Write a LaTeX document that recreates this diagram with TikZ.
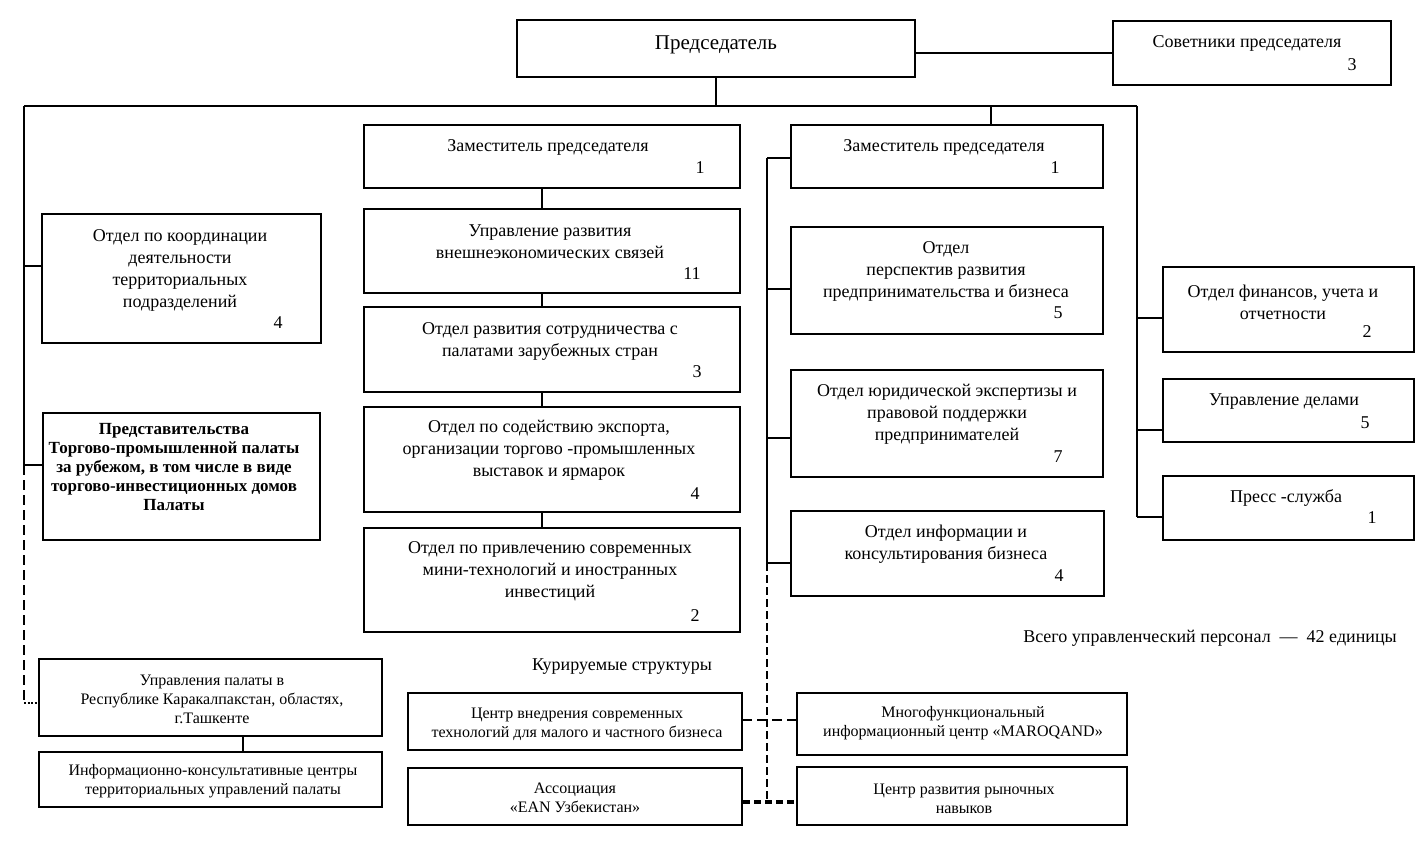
\documentclass[tikz,border=0pt]{standalone}
\usepackage{fontspec}
\setmainfont{Liberation Serif}
\usetikzlibrary{fit}
\begin{document}
\begin{tikzpicture}[x=1pt,y=-1pt,
  box/.style={draw, line width=2pt, inner sep=0pt},
  conn/.style={line width=2pt},
  dconn/.style={line width=2pt, dash pattern=on 10pt off 5pt},
  ddconn/.style={line width=2.8pt, dash pattern=on 8pt off 4pt},
  thconn/.style={line width=3.8pt, dash pattern=on 7pt off 4pt},
  txt/.style={font=\fontsize{18}{22}\selectfont, align=center, inner sep=0pt},
  stxt/.style={font=\fontsize{16}{19}\selectfont, align=center, inner sep=0pt},
  btxt/.style={font=\bfseries\fontsize{17}{19}\selectfont, align=center, inner sep=0pt},
  num/.style={font=\fontsize{18}{22}\selectfont, inner sep=0pt}]
\useasboundingbox (0,0) rectangle (1420,850);
% boxes
\node[box, fit={(517,20) (915,77)}] (chair) {};
\node[box, fit={(1113,21) (1391,85)}] (adv) {};
\node[box, fit={(364,125) (740,188)}] (zl) {};
\node[box, fit={(364,209) (740,293)}] (ur) {};
\node[box, fit={(364,307) (740,392)}] (os) {};
\node[box, fit={(364,407) (740,512)}] (oe) {};
\node[box, fit={(364,528) (740,632)}] (oi) {};
\node[box, fit={(791,125) (1103,188)}] (zr) {};
\node[box, fit={(791,227) (1103,334)}] (op) {};
\node[box, fit={(791,370) (1103,477)}] (oj) {};
\node[box, fit={(791,511) (1104,596)}] (ok) {};
\node[box, fit={(1163,267) (1414,352)}] (of) {};
\node[box, fit={(1163,379) (1414,442)}] (ud) {};
\node[box, fit={(1163,476) (1414,540)}] (ps) {};
\node[box, fit={(42,214) (321,343)}] (okd) {};
\node[box, fit={(43,413) (320,540)}] (rep) {};
\node[box, fit={(39,659) (382,736)}] (upr) {};
\node[box, fit={(39,752) (382,807)}] (ikc) {};
\node[box, fit={(408,693) (742,750)}] (cvt) {};
\node[box, fit={(408,768) (742,825)}] (ean) {};
\node[box, fit={(797,693) (1127,755)}] (mfc) {};
\node[box, fit={(797,767) (1127,825)}] (crn) {};
% texts
\node[txt, font=\fontsize{21}{25}\selectfont] (t-chair) at (716,45) {Председатель};
\node[txt] (t-adv) at (1247,43) {Советники председателя};
\node[num] (n-adv) at (1352,65) {3};
\node[txt] (t-zl) at (548,147) {Заместитель председателя};
\node[num] (n-zl) at (700,168) {1};
\node[txt] (t-ur) at (550,241.5) {Управление развития\\внешнеэкономических связей};
\node[num] (n-ur) at (692,274) {11};
\node[txt] (t-os) at (550,341) {Отдел развития сотрудничества с\\палатами зарубежных стран};
\node[num] (n-os) at (697,372) {3};
\node[txt] (t-oe) at (549,450) {Отдел по содействию экспорта,\\организации торгово -промышленных\\выставок и ярмарок};
\node[num] (n-oe) at (695,494) {4};
\node[txt] (t-oi) at (550,571.5) {Отдел по привлечению современных\\мини-технологий и иностранных\\инвестиций};
\node[num] (n-oi) at (695,616) {2};
\node[txt] (t-zr) at (944,147) {Заместитель председателя};
\node[num] (n-zr) at (1055,168) {1};
\node[txt] (t-op) at (946,271.5) {Отдел\\перспектив развития\\предпринимательства и бизнеса};
\node[num] (n-op) at (1058,313) {5};
\node[txt] (t-oj) at (947,414.5) {Отдел юридической экспертизы и\\правовой поддержки\\предпринимателей};
\node[num] (n-oj) at (1058,457) {7};
\node[txt] (t-ok) at (946,544) {Отдел информации и\\консультирования бизнеса};
\node[num] (n-ok) at (1059,576) {4};
\node[txt] (t-of) at (1283,302) {Отдел финансов, учета и\\отчетности};
\node[num] (n-of) at (1367,332) {2};
\node[txt] (t-ud) at (1284,402) {Управление делами};
\node[num] (n-ud) at (1365,423) {5};
\node[txt] (t-ps) at (1286,498) {Пресс -служба};
\node[num] (n-ps) at (1372,518) {1};
\node[txt] (t-okd) at (180,270) {Отдел по координации\\деятельности\\территориальных\\подразделений};
\node[num] (n-okd) at (278,323) {4};
\node[btxt] (t-rep) at (174,467) {Представительства\\Торгово-промышленной палаты\\за рубежом, в том числе в виде\\торгово-инвестиционных домов\\Палаты};
\node[stxt] (t-upr) at (212,699) {Управления палаты в\\Республике Каракалпакстан, областях,\\г.Ташкенте};
\node[stxt] (t-ikc) at (213,781) {Информационно-консультативные центры\\территориальных управлений палаты};
\node[stxt] (t-cvt) at (577,724) {Центр внедрения современных\\технологий для малого и частного бизнеса};
\node[stxt] (t-ean) at (575,798) {Ассоциация\\«EAN Узбекистан»};
\node[stxt] (t-mfc) at (963,723.5) {Многофункциональный\\информационный центр  «MAROQAND»};
\node[stxt] (t-crn) at (964,798.5) {Центр развития рыночных\\навыков};
\node[txt] (t-kur) at (622,667) {Курируемые структуры};
\node[txt] (t-all) at (1210,638) {Всего управленческий персонал \ — \ 42 единицы};
% connectors: top
\coordinate (busL) at (24,106);
\coordinate (busR) at (1137,106);
\coordinate (tzr) at (991,106);
\draw[conn] (busL) -- (busR);
\draw[conn] (chair.south) -- (chair.south |- busL);
\draw[conn] (tzr) -- (tzr |- zr.north);
\draw[conn] (adv.west) -- (adv.west -| chair.east);
% left spine
\coordinate (lokd) at (24,266);
\coordinate (lrep) at (24,465);
\coordinate (lbot) at (24,703);
\draw[conn] (busL) -- (lrep);
\draw[conn] (lokd) -- (lokd -| okd.west);
\draw[conn] (lrep) -- (lrep -| rep.west);
\draw[dconn] (lrep) -- (lbot);
\draw[line width=1.6pt, dash pattern=on 2pt off 1.5pt] (lbot) -- (lbot -| upr.west);
\coordinate (bx) at (243,0);
\draw[conn] (upr.south -| bx) -- (ikc.north -| bx);
% middle column
\coordinate (mx) at (542,0);
\draw[conn] (zl.south -| mx) -- (ur.north -| mx);
\draw[conn] (ur.south -| mx) -- (os.north -| mx);
\draw[conn] (os.south -| mx) -- (oe.north -| mx);
\draw[conn] (oe.south -| mx) -- (oi.north -| mx);
% center spine
\coordinate (c1) at (767,158);
\coordinate (c2) at (767,289);
\coordinate (c3) at (767,438);
\coordinate (c4) at (767,563);
\coordinate (c5) at (767,802);
\coordinate (d1) at (742,720);
\draw[conn] (c1) -- (c4);
\draw[conn] (c1) -- (c1 -| zr.west);
\draw[conn] (c2) -- (c2 -| op.west);
\draw[conn] (c3) -- (c3 -| oj.west);
\draw[conn] (c4) -- (c4 -| ok.west);
\draw[ddconn] (c4) -- (c5);
\draw[dconn] (d1) -- (d1 -| mfc.west);
\draw[thconn] (c5 -| ean.east) -- (c5 -| crn.west);
% right spine
\coordinate (r1) at (1137,318);
\coordinate (r2) at (1137,430);
\coordinate (r3) at (1137,517);
\draw[conn] (busR) -- (r3);
\draw[conn] (r1) -- (r1 -| of.west);
\draw[conn] (r2) -- (r2 -| ud.west);
\draw[conn] (r3) -- (r3 -| ps.west);
\end{tikzpicture}
\end{document}
